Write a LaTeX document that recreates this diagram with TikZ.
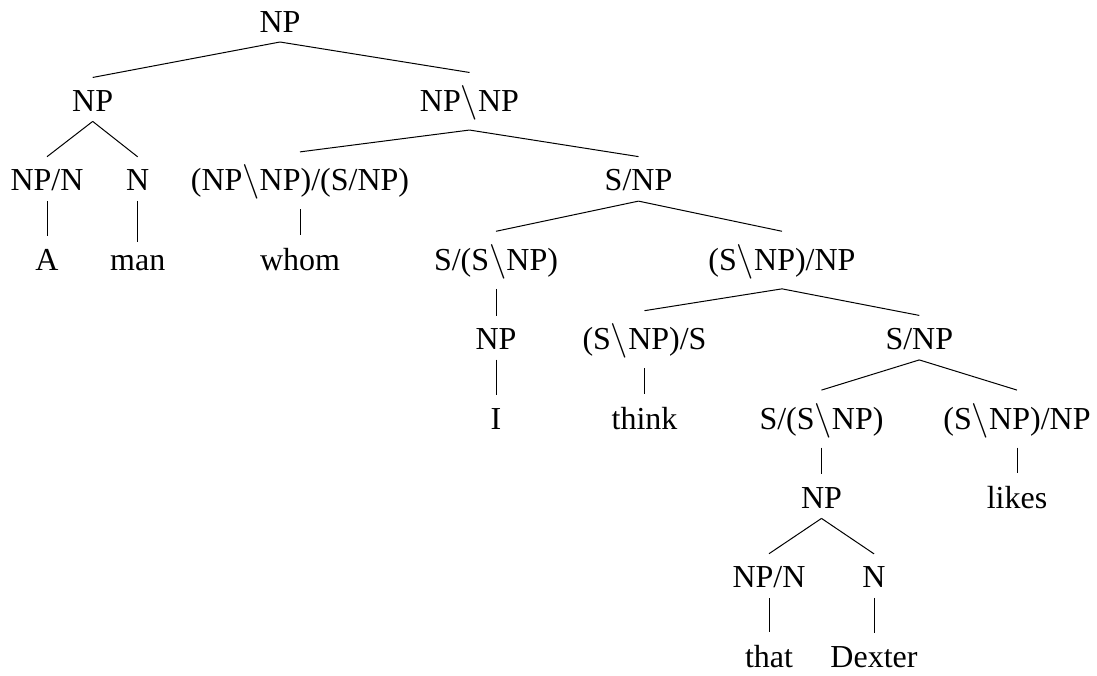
\documentclass[tikz,border=0pt]{standalone}
\usepackage{fontspec}
\setmainfont{Liberation Serif}
\newcommand\bs{$\backslash$}
\tikzset{
  cat/.style={anchor=base, inner sep=0pt, outer sep=0pt},
  br/.style={line width=0.5pt}
}
\newcommand\edge[2]{\draw[br] ([yshift=-5pt]#1.south) -- ([yshift=6.5pt]#2.north);}
\begin{document}
\begin{tikzpicture}[x=0.5pt,y=-0.5pt,font=\fontsize{16}{19}\selectfont]
\useasboundingbox (0,0) rectangle (1097,675);
% level 0
\node[cat] (r) at (280,32) {NP};
% level 1
\node[cat] (a) at (92.7,111.4) {NP};
\node[cat] (b) at (469.5,111.4) {NP\bs NP};
% level 2
\node[cat] (a1) at (47,190.8) {NP/N};
\node[cat] (a2) at (137.7,190.8) {N};
\node[cat] (b1) at (300,190.8) {(NP\bs NP)/(S/NP)};
\node[cat] (b2) at (638.5,190.8) {S/NP};
% level 3
\node[cat] (wA) at (47,270.2) {A};
\node[cat] (wman) at (137.7,270.2) {man};
\node[cat] (wwhom) at (300,270.2) {whom};
\node[cat] (c1) at (496,270.2) {S/(S\bs NP)};
\node[cat] (c2) at (782,270.2) {(S\bs NP)/NP};
% level 4
\node[cat] (d1) at (496,349.6) {NP};
\node[cat] (d2) at (644.5,349.6) {(S\bs NP)/S};
\node[cat] (d3) at (919.3,349.6) {S/NP};
% level 5
\node[cat] (wI) at (496,429) {I};
\node[cat] (wthink) at (644.5,429) {think};
\node[cat] (e1) at (821.5,429) {S/(S\bs NP)};
\node[cat] (e2) at (1017,429) {(S\bs NP)/NP};
% level 6
\node[cat] (f1) at (821.5,508.4) {NP};
\node[cat] (wlikes) at (1017,508.4) {likes};
% level 7
\node[cat] (g1) at (769,587.8) {NP/N};
\node[cat] (g2) at (874,587.8) {N};
% level 8
\node[cat] (wthat) at (769,667.2) {that};
\node[cat] (wDexter) at (874,667.2) {Dexter};
% edges
\edge{r}{a}
\edge{r}{b}
\edge{a}{a1}
\edge{a}{a2}
\edge{b}{b1}
\edge{b}{b2}
\edge{a1}{wA}
\edge{a2}{wman}
\edge{b1}{wwhom}
\edge{b2}{c1}
\edge{b2}{c2}
\edge{c1}{d1}
\edge{c2}{d2}
\edge{c2}{d3}
\edge{d1}{wI}
\edge{d2}{wthink}
\edge{d3}{e1}
\edge{d3}{e2}
\edge{e1}{f1}
\edge{e2}{wlikes}
\edge{f1}{g1}
\edge{f1}{g2}
\edge{g1}{wthat}
\edge{g2}{wDexter}
\end{tikzpicture}
\end{document}
